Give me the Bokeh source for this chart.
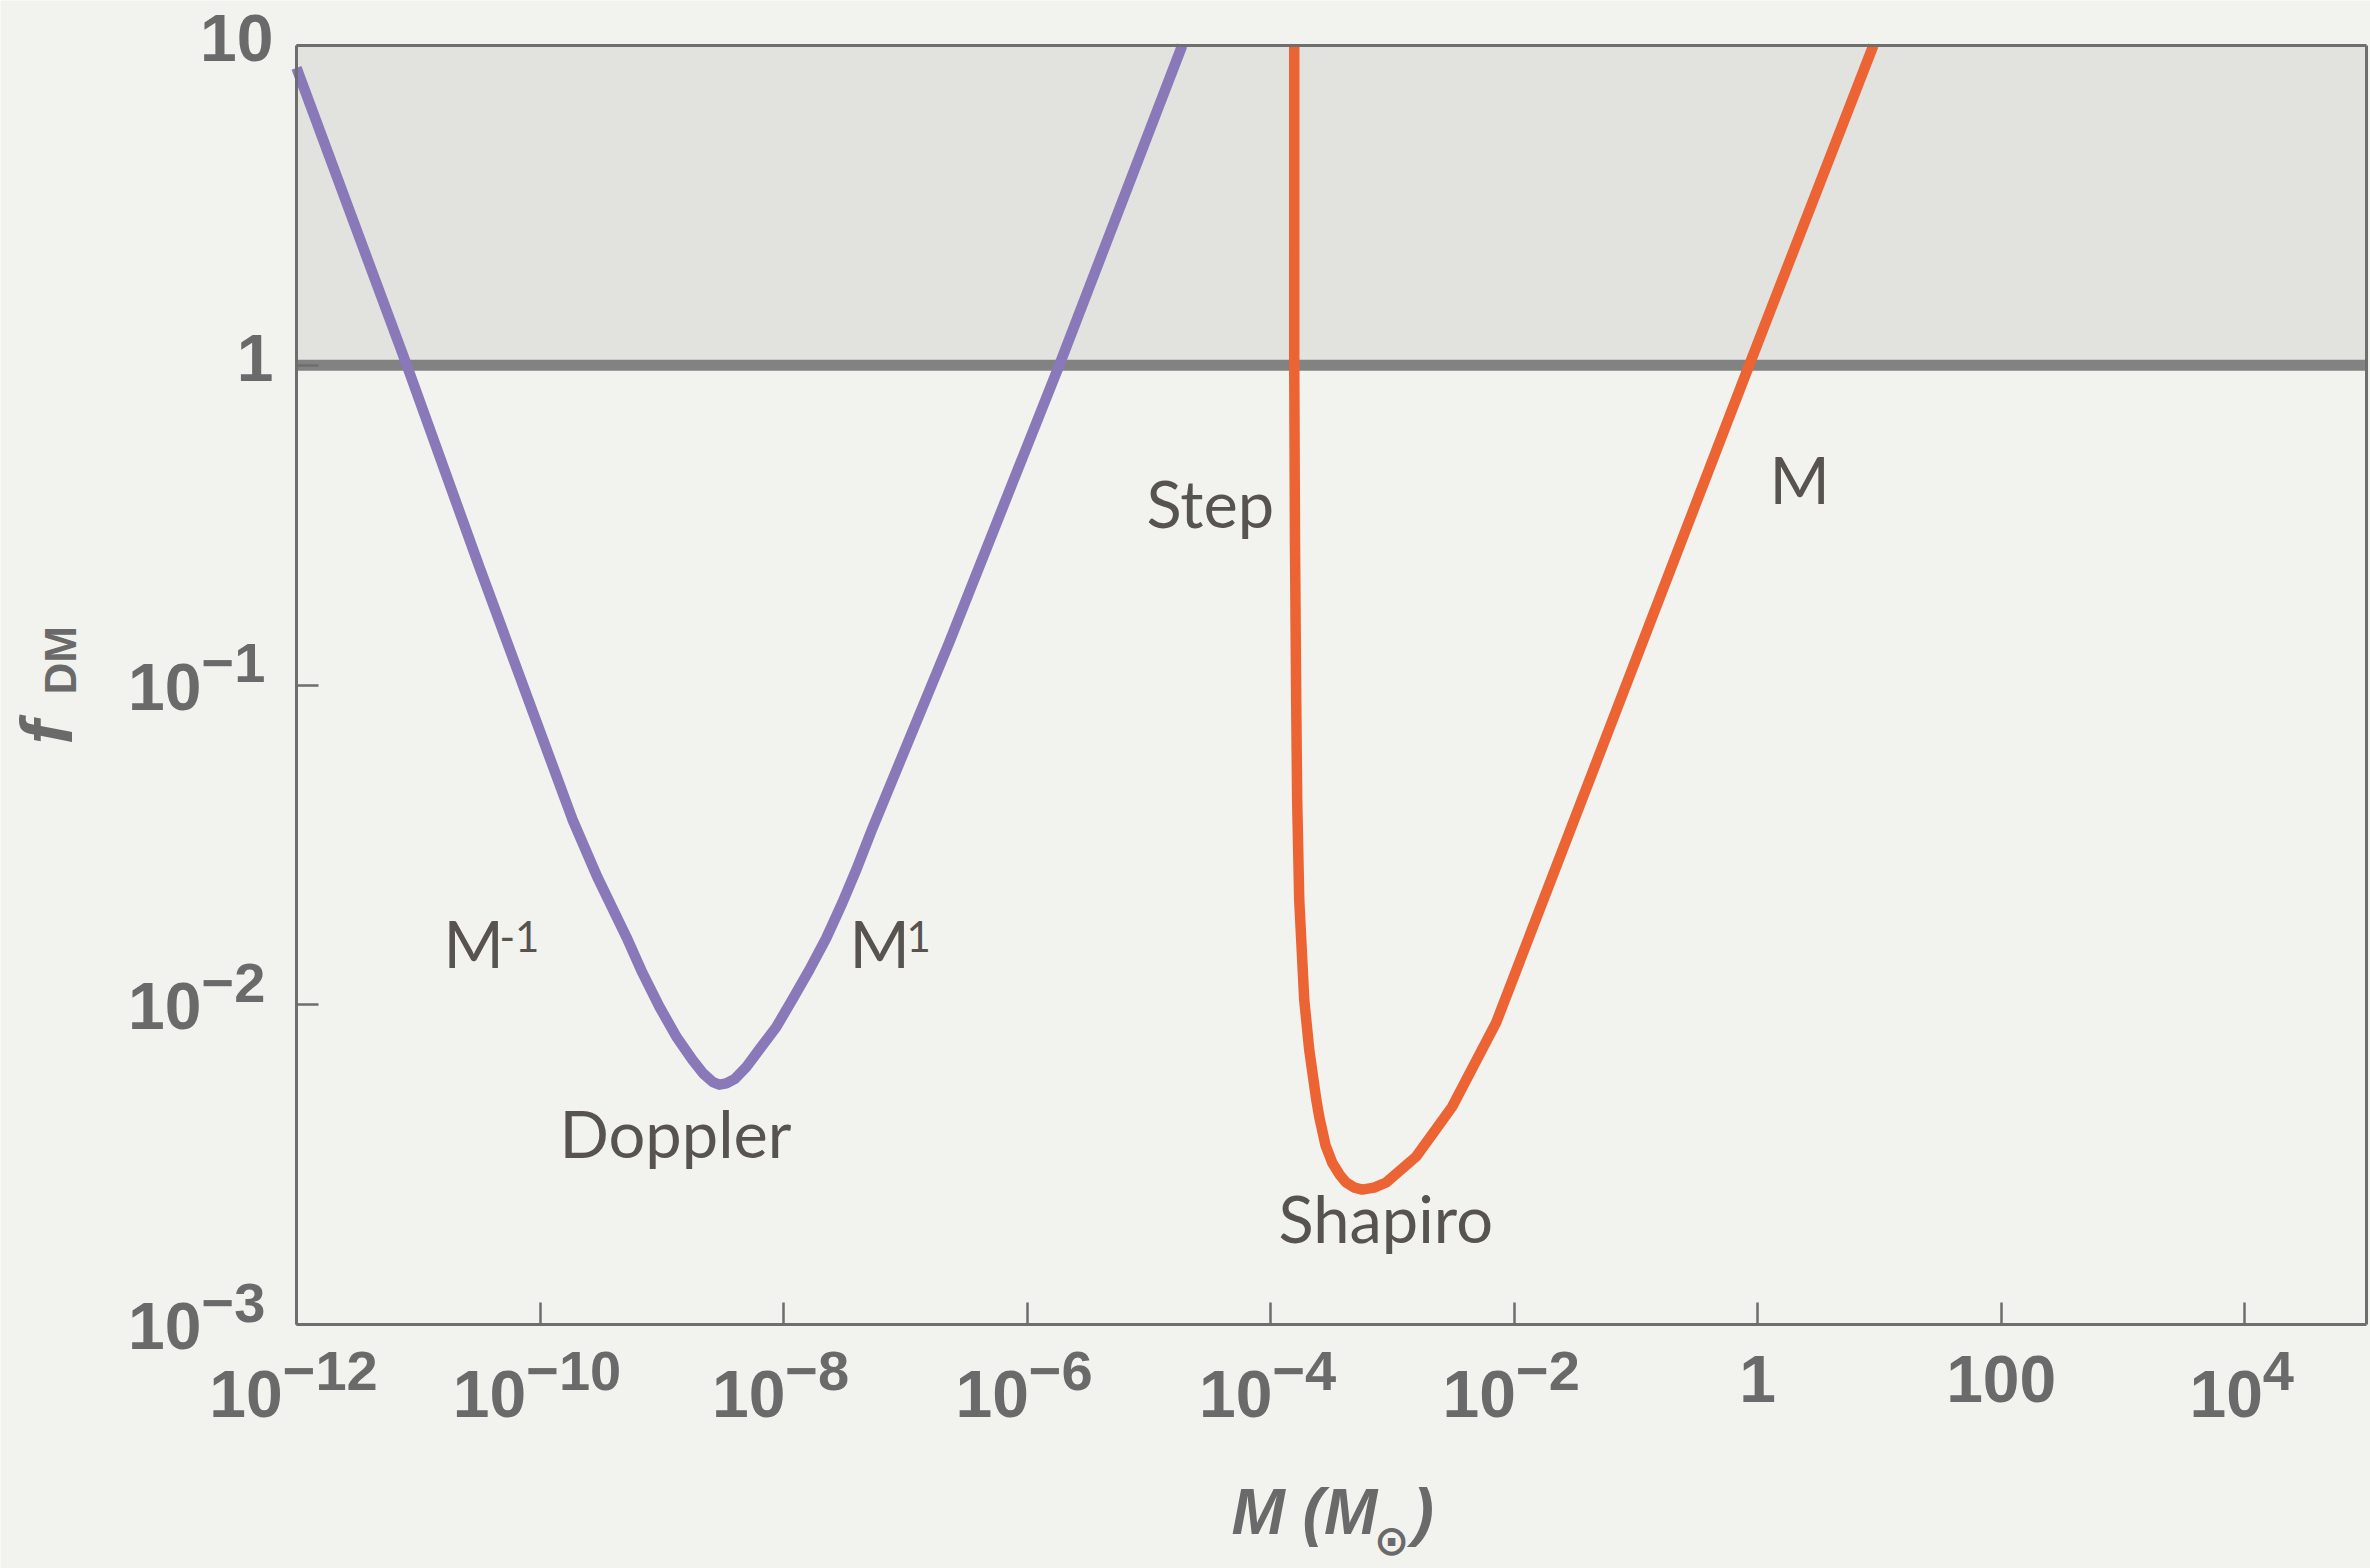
import math
from bokeh.plotting import figure
from bokeh.models import (Range1d, FixedTicker, CustomJSTickFormatter, LogAxis,
                          BoxAnnotation, Label)
from bokeh.embed import file_html
from bokeh.resources import INLINE

# ---------------- data (log10 values) ----------------
doppler_log10_M = [-12.0, -11.097, -10.498, -9.734, -9.53, -9.291, -9.159, -9.02, -8.88,
                   -8.749, -8.66, -8.58, -8.527, -8.47, -8.40, -8.305, -8.199,
                   -8.059, -7.928, -7.788, -7.65, -7.517, -7.40, -7.275, -6.639,
                   -5.736, -4.726]
doppler_log10_f = [0.93, 0.003, -0.631, -1.42, -1.60, -1.788, -1.90, -2.006, -2.10,
                   -2.172, -2.215, -2.242, -2.25, -2.246, -2.232, -2.194, -2.14,
                   -2.069, -1.984, -1.891, -1.792, -1.681, -1.575, -1.453, -0.866,
                   0.0, 1.0]

shapiro_log10_M = [-3.806, -3.806, -3.800, -3.790, -3.782, -3.765, -3.724, -3.683,
                   -3.625, -3.601, -3.549, -3.494, -3.434, -3.379, -3.31, -3.248,
                   -3.15, -3.051, -2.805, -2.509, -2.148, -0.07, 0.95]
shapiro_log10_f = [1.0, 0.0, -0.55, -1.047, -1.359, -1.672, -1.984, -2.141,
                   -2.297, -2.35, -2.44, -2.494, -2.531, -2.556, -2.572, -2.578,
                   -2.572, -2.556, -2.475, -2.319, -2.056, 0.0, 1.0]

x_tick_values = [1e-12, 1e-10, 1e-8, 1e-6, 1e-4, 1e-2, 1.0, 100.0, 1e4]
x_tick_base = ["10", "10", "10", "10", "10", "10", "1", "100", "10"]
x_tick_exp = ["\u221212", "\u221210", "\u22128", "\u22126", "\u22124", "\u22122", "", "", "4"]

y_tick_values = [10.0, 1.0, 0.1, 0.01, 0.001]
y_tick_base = ["10", "1", "10", "10", "10"]
y_tick_exp = ["", "", "\u22121", "\u22122", "\u22123"]

x_lo, x_hi = 1e-12, 1e5
y_lo, y_hi = 1e-3, 10.0
band_bottom, band_top = 1.0, 10.0
limit_level = 1.0

doppler_M = [10 ** v for v in doppler_log10_M]
doppler_f = [10 ** v for v in doppler_log10_f]
shapiro_M = [10 ** v for v in shapiro_log10_M]
shapiro_f = [10 ** v for v in shapiro_log10_f]

# ---------------- layout / styles ----------------
W, H = 2370, 1568
PL, PR, PT, PB = 296, 2366, 45, 1324      # plot box in canvas pixels

BG = "#f2f2ef"
BAND = "#e2e2df"
AXIS = "#6e6e6e"
TICKTXT = "#6a6a6a"
NOTE = "#57534f"
PURPLE = "#8a79b8"
ORANGE = "#ec6434"
TICKFONT = "Liberation Sans"
NOTEFONT = "Lato"
BL = 0.37   # baseline correction (fraction of font size)

# ranges chosen so the plot box sits at PL..PR, PT..PB while the frame fills the canvas
dx = (math.log10(x_hi) - math.log10(x_lo)) / (PR - PL)
dy = (math.log10(y_hi) - math.log10(y_lo)) / (PB - PT)
x_range = Range1d(10 ** (math.log10(x_lo) - PL * dx), 10 ** (math.log10(x_hi) + (W - PR) * dx))
y_range = Range1d(10 ** (math.log10(y_lo) - (H - PB) * dy), 10 ** (math.log10(y_hi) + PT * dy))

p = figure(width=W, height=H, x_axis_type="log", y_axis_type="log",
           x_range=x_range, y_range=y_range,
           x_axis_location=None, y_axis_location=None,
           output_backend="svg", toolbar_location=None,
           min_border=0)
p.background_fill_color = BG
p.border_fill_color = BG
p.outline_line_color = None
p.grid.visible = False

blank = CustomJSTickFormatter(code="return ''")


def make_axis(loc, side, ticks, bounds):
    ax = LogAxis(fixed_location=loc, ticker=FixedTicker(ticks=ticks), bounds=bounds,
                 formatter=blank, axis_line_color=AXIS, axis_line_width=3,
                 major_tick_in=22, major_tick_out=0, major_tick_line_color=AXIS,
                 major_tick_line_width=2.5, minor_tick_line_color=None,
                 major_label_standoff=0)
    p.add_layout(ax, side)


p.add_layout(BoxAnnotation(left=x_lo, right=x_hi, bottom=band_bottom, top=band_top,
                           fill_color=BAND, fill_alpha=1.0, line_color=None,
                           level="underlay"))
p.line([x_lo, x_hi], [limit_level, limit_level], line_color="#828282", line_width=11)

p.line(doppler_M, doppler_f, line_color=PURPLE, line_width=10.5, line_join="round")
p.line(shapiro_M, shapiro_f, line_color=ORANGE, line_width=10.5, line_join="round")

make_axis(y_lo, "below", x_tick_values, (x_lo, x_hi))
make_axis(x_lo, "left", y_tick_values, (y_lo, y_hi))
make_axis(y_hi, "above", [], (x_lo, x_hi))
make_axis(x_hi, "right", [], (y_lo, y_hi))


def lab(text, x, y, xu, yu, size, font=TICKFONT, style="bold", color=TICKTXT,
        align="left", angle=0.0, xo=0, yo=0):
    p.add_layout(Label(x=x, y=y, x_units=xu, y_units=yu, text=text,
                       text_font=font, text_font_size=f"{size}px",
                       text_font_style=style, text_color=color,
                       text_align=align, text_baseline="alphabetic",
                       angle=angle, x_offset=xo, y_offset=yo))


def scr(X, Y, size):
    """canvas pixel (X, baseline Y) -> screen units of the frame"""
    return X, H - Y + BL * size


BASE_F, EXP_F = 66, 56
DIG, MINUS = 0.556, 0.584

# x tick labels
for v, b, e in zip(x_tick_values, x_tick_base, x_tick_exp):
    if e:
        base_w = len(b) * DIG * BASE_F
        exp_w = sum(MINUS if c == "\u2212" else DIG for c in e) * EXP_F
        split = (base_w - exp_w) / 2 - 3
        lab(b, v, scr(0, 1418, BASE_F)[1], "data", "screen", BASE_F, align="right", xo=split)
        lab(e, v, scr(0, 1391, EXP_F)[1], "data", "screen", EXP_F, align="left", xo=split)
    else:
        lab(b, v, scr(0, 1403, BASE_F)[1], "data", "screen", BASE_F, align="center")

# y tick labels
for v, b, e in zip(y_tick_values, y_tick_base, y_tick_exp):
    if e:
        lab(b, 201, v, "screen", "data", BASE_F, align="right", yo=-26 + BL * BASE_F)
        lab(e, 201, v, "screen", "data", EXP_F, align="left", yo=1 + BL * EXP_F)
    else:
        lab(b, 273, v, "screen", "data", BASE_F, align="right", yo=-17 + BL * BASE_F)

# axis titles
lab("M (M", *scr(1231, 1535, 64), "screen", "screen", 64, style="bold italic")
lab("\u2299", *scr(1391, 1556, 42), "screen", "screen", 42, font="DejaVu Sans",
    style="bold", align="center")
lab(")", *scr(1412, 1535, 64), "screen", "screen", 64, style="bold italic")
lab("f", 73 - BL * 72, H - 744, "screen", "screen", 72, style="bold italic",
    angle=math.pi / 2)
lab("DM", 76 - BL * 44, H - 694, "screen", "screen", 44, style="bold",
    angle=math.pi / 2)

# curve annotations
NOTE_F, SUP_F = 65, 42
notes = [("Step", 1146, 527, NOTE_F), ("M", 1769, 503, NOTE_F),
         ("Doppler", 559, 1157, NOTE_F), ("M", 443, 967, NOTE_F),
         ("-1", 499, 952, SUP_F), ("M", 849, 967, NOTE_F), ("1", 906, 952, SUP_F),
         ("Shapiro", 1278, 1242, NOTE_F)]
for t, X, Y, s in notes:
    lab(t, *scr(X, Y, s), "screen", "screen", s, font=NOTEFONT, style="normal", color=NOTE)

open("out.html", "w").write(file_html(p, INLINE))
